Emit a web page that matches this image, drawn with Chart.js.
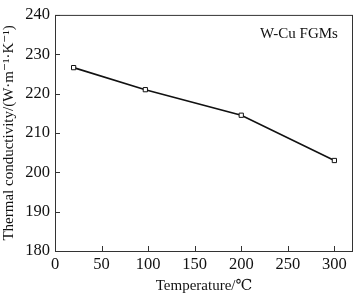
<!DOCTYPE html>
<html>
<head>
<meta charset="utf-8">
<script src="https://cdn.jsdelivr.net/npm/chart.js@4.4.0/dist/chart.umd.min.js"></script>
<style>
  html, body { margin: 0; padding: 0; background: #fff; }
  #wrap { width: 358px; height: 295px; }
</style>
</head>
<body>
<div id="wrap"><canvas id="tcChart"></canvas></div>
<script>
const temps = [20, 97, 200, 300];
const conductivity = [226.6, 221.0, 214.5, 203.0];
const xTicks = [0, 50, 100, 150, 200, 250, 300];
const yTicks = [180, 190, 200, 210, 220, 230, 240];

const serif = "'Liberation Serif', 'DejaVu Serif', serif";

// inward ticks, box frame and the in-plot label
const framePlugin = {
  id: "frame",
  afterDraw(chart) {
    const { ctx, chartArea: a, scales } = chart;
    ctx.save();
    ctx.strokeStyle = "#333";
    ctx.lineWidth = 1;
    ctx.strokeRect(a.left + 0.5, a.top + 0.5, a.right - a.left - 1, a.bottom - a.top);
    ctx.beginPath();
    xTicks.forEach((v) => {
      const px = Math.round(scales.x.getPixelForValue(v)) + 0.5;
      ctx.moveTo(px, a.bottom);
      ctx.lineTo(px, a.bottom - 5);
    });
    yTicks.forEach((v) => {
      const py = Math.round(scales.y.getPixelForValue(v)) + 0.5;
      ctx.moveTo(a.left, py);
      ctx.lineTo(a.left + 5, py);
    });
    ctx.stroke();
    ctx.fillStyle = "#111";
    ctx.font = "15px " + serif;
    ctx.textAlign = "left";
    ctx.textBaseline = "middle";
    ctx.fillText("W-Cu FGMs", 260, 34);
    ctx.restore();
  },
};

const ctx = document.getElementById("tcChart").getContext("2d");

new Chart(ctx, {
  type: "line",
  data: {
    datasets: [
      {
        data: temps.map((t, i) => ({ x: t, y: conductivity[i] })),
        borderColor: "#111",
        borderWidth: 1.6,
        pointStyle: "rect",
        pointRadius: 3,
        pointBackgroundColor: "#fff",
        pointBorderColor: "#111",
        pointBorderWidth: 1,
        tension: 0,
        fill: false,
      },
    ],
  },
  options: {
    responsive: true,
    maintainAspectRatio: false,
    animation: false,
    layout: { padding: { top: 5, right: 3, left: 0, bottom: 0 } },
    plugins: {
      legend: { display: false },
      tooltip: { enabled: false },
    },
    scales: {
      x: {
        type: "linear",
        min: 0,
        max: 320,
        afterBuildTicks: (s) => { s.ticks = xTicks.map((v) => ({ value: v })); },
        afterFit: (s) => { s.height = 44; },
        grid: { display: false, drawTicks: false, tickLength: 0 },
        border: { display: false },
        ticks: {
          color: "#111",
          font: { family: serif, size: 16.5 },
          padding: 4,
          maxRotation: 0,
        },
        title: {
          display: true,
          text: "Temperature/℃",
          color: "#111",
          font: { family: serif, size: 15 },
          padding: { top: 2, bottom: 0 },
        },
      },
      y: {
        min: 180,
        max: 240,
        afterBuildTicks: (s) => { s.ticks = yTicks.map((v) => ({ value: v })); },
        afterFit: (s) => { s.width = 55; },
        grid: { display: false, drawTicks: false, tickLength: 0 },
        border: { display: false },
        ticks: {
          color: "#111",
          font: { family: serif, size: 16.5 },
          padding: 5,
        },
        title: {
          display: true,
          text: "Thermal conductivity/(W·m⁻¹·K⁻¹)",
          color: "#111",
          font: { family: serif, size: 15 },
          padding: { top: 0, bottom: 2 },
        },
      },
    },
  },
  plugins: [framePlugin],
});
</script>
</body>
</html>
